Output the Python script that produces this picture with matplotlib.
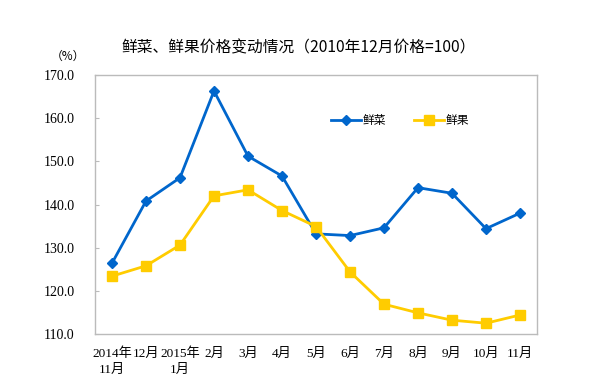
import matplotlib
matplotlib.use('Agg')
import matplotlib.pyplot as plt

# 数据
months = ['2014年\n11月', '12月', '2015年\n1月', '2月', '3月', '4月', '5月',
          '6月', '7月', '8月', '9月', '10月', '11月']
veg = [126.4, 140.8, 146.2, 166.3, 151.2, 146.6, 133.2, 132.8, 134.6, 143.9, 142.6, 134.4, 138.0]
fruit = [123.4, 125.8, 130.6, 142.0, 143.4, 138.6, 134.9, 124.4, 116.9, 114.9, 113.2, 112.5, 114.4]
yticks = [110, 120, 130, 140, 150, 160, 170]

serif = ['Liberation Serif', 'Noto Sans CJK SC']
cjk = ['Noto Sans CJK SC', 'DejaVu Sans']

fig = plt.figure(figsize=(6.09, 3.87), dpi=100)
ax = fig.add_axes([95 / 609, 1 - 334 / 387, 442 / 609, 259 / 387])

x = range(len(months))
ax.plot(x, veg, color='#0066CC', lw=2, marker='D', ms=5.5, label='鲜菜')
ax.plot(x, fruit, color='#FFCC00', lw=2, marker='s', ms=7, label='鲜果')

ax.set_xlim(-0.5, len(months) - 0.5)
ax.set_ylim(110, 170)
ax.set_yticks(yticks)
ax.set_yticklabels(['%.1f' % v for v in yticks], family=serif, fontsize=10)
ax.set_xticks(list(x))
ax.set_xticklabels(months, family=serif, fontsize=9.5, linespacing=1.4, va='top')
ax.tick_params(axis='x', length=0, pad=10)
ax.tick_params(axis='y', direction='in', length=3, color='#BBBBBB', pad=37)
for lab in ax.get_yticklabels():
    lab.set_horizontalalignment('left')

for s in ax.spines.values():
    s.set_color('#BBBBBB')
    s.set_linewidth(1)

fig.text(299 / 609, 1 - 48 / 387, '鲜菜、鲜果价格变动情况（2010年12月价格=100）',
         ha='center', va='center', family=cjk, fontsize=11.3)
fig.text(68 / 609, 1 - 56 / 387, '（%）', ha='center', va='center', family=cjk, fontsize=8.5)

ax.legend(loc='center left', bbox_to_anchor=(0.51, 0.825), ncol=2, frameon=False,
          prop={'family': cjk, 'size': 8.5}, handlelength=2.5, columnspacing=2.4,
          handletextpad=0.15)

fig.savefig('out.png', dpi=100)
